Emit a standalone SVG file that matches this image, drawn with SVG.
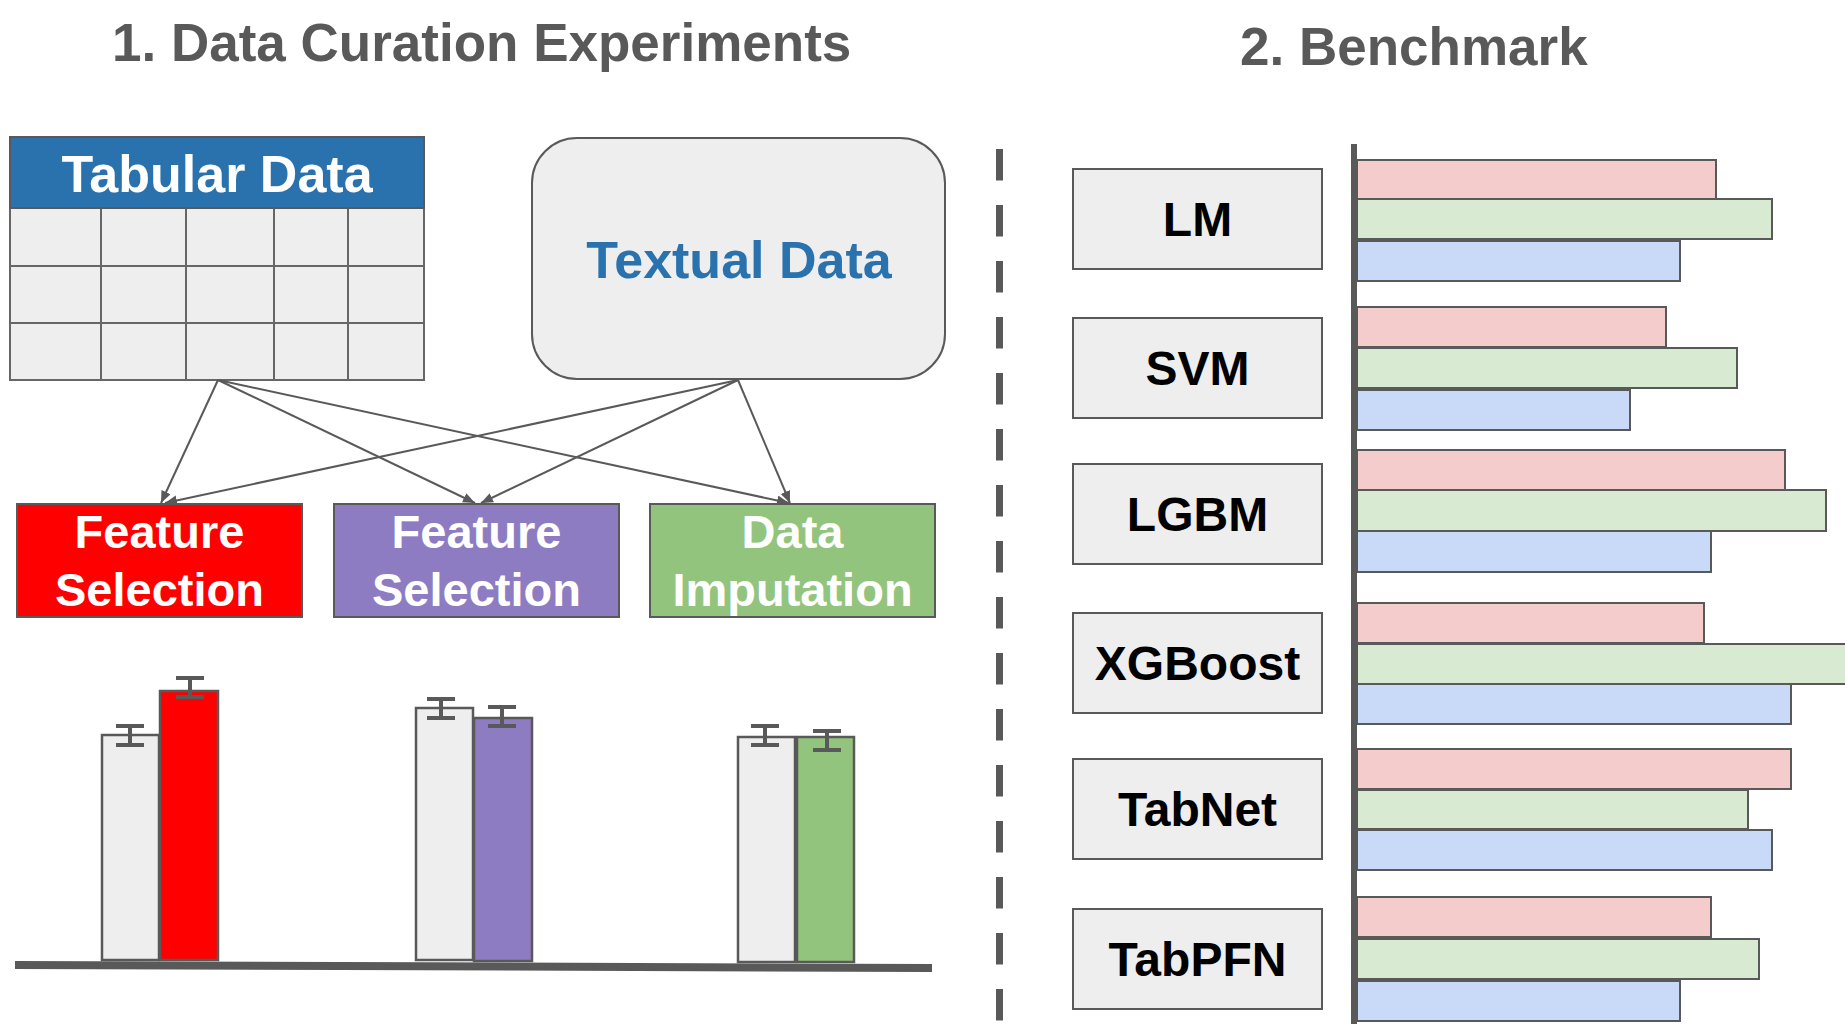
<svg xmlns="http://www.w3.org/2000/svg" width="1845" height="1024" viewBox="0 0 1845 1024">
<style>
text{font-family:"Liberation Sans",Arial,sans-serif;font-weight:bold}
.title{font-size:53px;fill:#595959}
.wt{fill:#ffffff;font-size:47px;text-anchor:middle}
.ln{stroke:#595959;stroke-width:2;fill:none}
.box{fill:#eeeeee;stroke:#595959;stroke-width:2}
.mlab{font-size:48px;fill:#000000;text-anchor:middle}
.bar{stroke:#595959;stroke-width:2}
.pk{fill:#f4cccc}.gr{fill:#d9ead3}.bl{fill:#c9daf8}
.err{stroke:#595959;stroke-width:4;fill:none}
.vbar{stroke:#595959;stroke-width:2.5}
</style>
<defs>
<marker id="ah" markerUnits="userSpaceOnUse" markerWidth="14" markerHeight="12" refX="12" refY="5" orient="auto">
<path d="M0,0 L12,5 L0,10 z" fill="#595959"/>
</marker>
</defs>
<rect width="1845" height="1024" fill="#ffffff"/>

<text class="title" x="112" y="61">1. Data Curation Experiments</text>
<text class="title" x="1240" y="65">2. Benchmark</text>

<g id="tabular">
<rect x="10" y="208" width="414" height="172" fill="#eeeeee" stroke="#666666" stroke-width="2"/>
<path d="M10,266H424M10,323H424M101,208V380M186,208V380M274,208V380M348,208V380" stroke="#666666" stroke-width="2"/>
<rect x="10" y="137" width="414" height="71" fill="#2a72ad" stroke="#595959" stroke-width="2"/>
<text x="217" y="192" font-size="52" fill="#ffffff" text-anchor="middle">Tabular Data</text>
</g>

<g id="textual">
<rect x="532" y="138" width="413" height="241" rx="45" ry="45" fill="#eeeeee" stroke="#595959" stroke-width="2"/>
<text x="739" y="278" font-size="52" fill="#2a72ad" text-anchor="middle">Textual Data</text>
</g>

<g id="connectors">
<line class="ln" x1="218" y1="380" x2="161" y2="503" marker-end="url(#ah)"/>
<line class="ln" x1="218" y1="380" x2="475" y2="503" marker-end="url(#ah)"/>
<line class="ln" x1="218" y1="380" x2="789" y2="503" marker-end="url(#ah)"/>
<line class="ln" x1="738" y1="380" x2="165" y2="503" marker-end="url(#ah)"/>
<line class="ln" x1="738" y1="380" x2="481" y2="503" marker-end="url(#ah)"/>
<line class="ln" x1="738" y1="380" x2="790" y2="503" marker-end="url(#ah)"/>
</g>

<g id="fs-tab">
<rect x="17" y="504" width="285" height="113" fill="#ff0000" stroke="#595959" stroke-width="2"/>
<text class="wt" x="159.5" y="548">Feature</text>
<text class="wt" x="159.5" y="606">Selection</text>
</g>
<g id="fs-text">
<rect x="334" y="504" width="285" height="113" fill="#8e7cc3" stroke="#595959" stroke-width="2"/>
<text class="wt" x="476.5" y="548">Feature</text>
<text class="wt" x="476.5" y="606">Selection</text>
</g>
<g id="imputation">
<rect x="650" y="504" width="285" height="113" fill="#93c47d" stroke="#595959" stroke-width="2"/>
<text class="wt" x="792.5" y="548">Data</text>
<text class="wt" x="792.5" y="606">Imputation</text>
</g>

<g id="barchart">
<rect class="vbar" x="102" y="735" width="57" height="225" fill="#eeeeee" stroke="#777777"/>
<rect class="vbar" x="160" y="691" width="58" height="269" fill="#ff0000"/>
<rect class="vbar" x="416" y="708" width="57" height="252" fill="#eeeeee" stroke="#777777"/>
<rect class="vbar" x="474" y="718" width="58" height="243" fill="#8e7cc3"/>
<rect class="vbar" x="738" y="737" width="57" height="225" fill="#eeeeee" stroke="#777777"/>
<rect class="vbar" x="797" y="737" width="57" height="225" fill="#93c47d"/>
<path class="err" d="M116,726H144M116,745H144M130,726V745"/>
<path class="err" d="M176,678H204M176,697H204M190,678V697"/>
<path class="err" d="M427,699H455M427,718H455M441,699V718"/>
<path class="err" d="M488,707H516M488,726H516M502,707V726"/>
<path class="err" d="M751,726H779M751,745H779M765,726V745"/>
<path class="err" d="M813,731H841M813,750H841M827,731V750"/>
<line x1="15" y1="965" x2="932" y2="968" stroke="#595959" stroke-width="8"/>
</g>

<line id="divider" x1="999.5" y1="149" x2="999.5" y2="1024" stroke="#595959" stroke-width="7" stroke-dasharray="31.5 24.5"/>

<g id="bars">
<rect class="bar pk" x="1357" y="160" width="359" height="40"/>
<rect class="bar gr" x="1357" y="199" width="415" height="40"/>
<rect class="bar bl" x="1357" y="241" width="323" height="40"/>
<rect class="bar pk" x="1357" y="307" width="309" height="40"/>
<rect class="bar gr" x="1357" y="348" width="380" height="40"/>
<rect class="bar bl" x="1357" y="390" width="273" height="40"/>
<rect class="bar pk" x="1357" y="450" width="428" height="41"/>
<rect class="bar gr" x="1357" y="490" width="469" height="41"/>
<rect class="bar bl" x="1357" y="531" width="354" height="41"/>
<rect class="bar pk" x="1357" y="603" width="347" height="40"/>
<rect class="bar gr" x="1357" y="644" width="500" height="40"/>
<rect class="bar bl" x="1357" y="684" width="434" height="40"/>
<rect class="bar pk" x="1357" y="749" width="434" height="40"/>
<rect class="bar gr" x="1357" y="790" width="391" height="39"/>
<rect class="bar bl" x="1357" y="830" width="415" height="40"/>
<rect class="bar pk" x="1357" y="897" width="354" height="40"/>
<rect class="bar gr" x="1357" y="939" width="402" height="40"/>
<rect class="bar bl" x="1357" y="981" width="323" height="40"/>
</g>
<line id="axis" x1="1354" y1="144" x2="1354" y2="1024" stroke="#595959" stroke-width="6"/>

<g id="lm"><rect class="box" x="1073" y="169" width="249" height="100"/><text class="mlab" x="1197.5" y="236">LM</text></g>
<g id="svm"><rect class="box" x="1073" y="318" width="249" height="100"/><text class="mlab" x="1197.5" y="385">SVM</text></g>
<g id="lgbm"><rect class="box" x="1073" y="464" width="249" height="100"/><text class="mlab" x="1197.5" y="531">LGBM</text></g>
<g id="xgboost"><rect class="box" x="1073" y="613" width="249" height="100"/><text class="mlab" x="1197.5" y="680">XGBoost</text></g>
<g id="tabnet"><rect class="box" x="1073" y="759" width="249" height="100"/><text class="mlab" x="1197.5" y="826">TabNet</text></g>
<g id="tabpfn"><rect class="box" x="1073" y="909" width="249" height="100"/><text class="mlab" x="1197.5" y="976">TabPFN</text></g>
</svg>
